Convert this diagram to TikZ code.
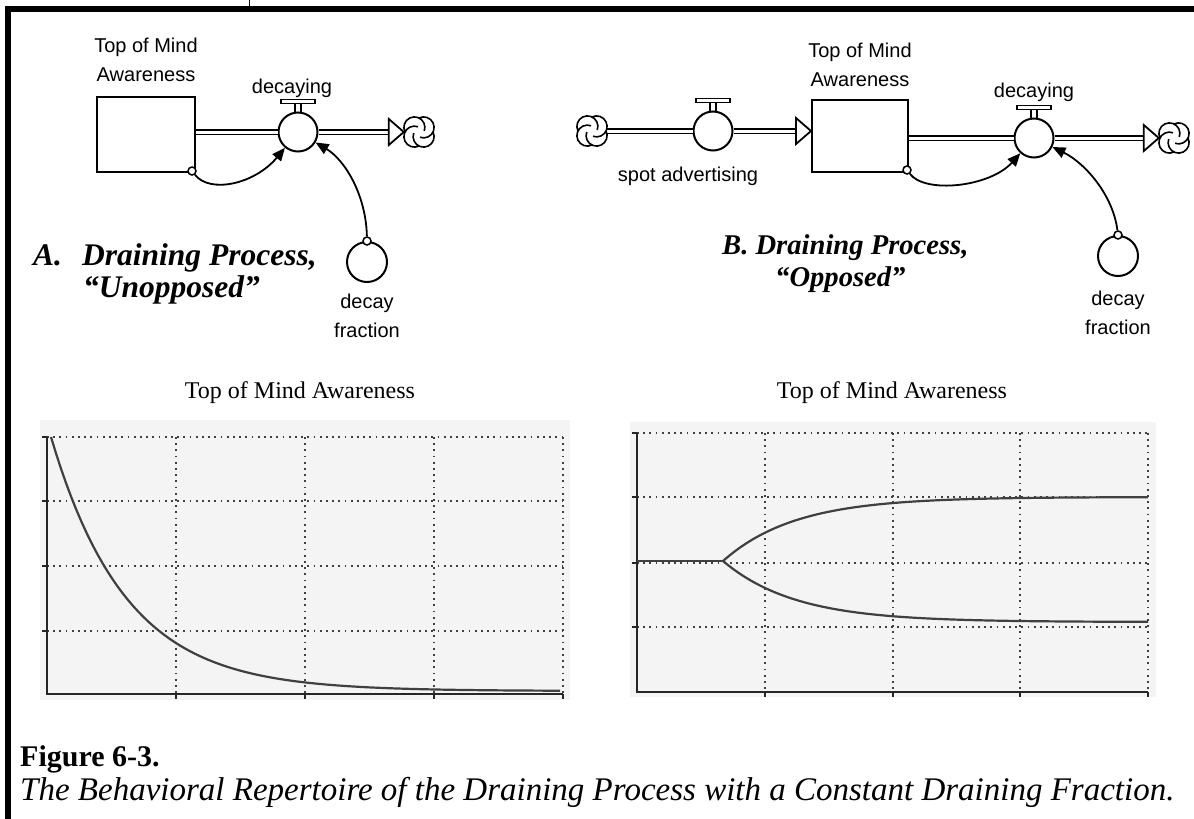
\documentclass[tikz,border=0pt]{standalone}
\usepackage{fontspec}
\setmainfont{Liberation Serif}
\newfontfamily\diagfont{Liberation Sans}
\usetikzlibrary{arrows.meta}
\definecolor{panel}{RGB}{244,244,244}

\begin{document}
\begin{tikzpicture}[x=1pt, y=-1pt,
  lbl/.style={font=\diagfont\fontsize{20}{29}\selectfont, align=center, inner sep=0pt},
  heading/.style={font=\fontsize{31.5}{36}\selectfont\bfseries\itshape, inner sep=0pt, anchor=base west},
  charttitle/.style={font=\fontsize{24}{28}\selectfont, inner sep=0pt},
  stock/.style={draw, line width=2pt, inner sep=0pt},
  valve/.style={circle, draw, line width=2pt, fill=white, minimum size=39pt, inner sep=0pt},
  aux/.style={circle, draw, line width=2pt, minimum size=40pt, inner sep=0pt},
  tap/.style={circle, draw, line width=1.5pt, fill=white, minimum size=8pt, inner sep=0pt},
  cloudpt/.style={minimum size=30pt, inner sep=0pt},
  pipe/.style={double, double distance=3pt, line width=1.4pt},
  flowhead/.style={line width=1.8pt, fill=white},
  infolink/.style={line width=1.8pt, -{Triangle[length=13pt, width=11pt]}},
  gridline/.style={line width=1.8pt, black!75, dash pattern=on 1.8pt off 4.4pt},
  chartaxis/.style={line width=2pt, black!85},
  trace/.style={line width=2.2pt, black!75},
]

\useasboundingbox (0,0) rectangle (1194,819);

\draw[line width=5.5pt] (8,819) -- (8,9) -- (1194,9);
\draw[line width=1pt] (249,0) -- (249,6);

\node[stock, minimum width=98pt, minimum height=75pt] (stockA) at (146,134.5) {};
\node[lbl] (stockAlbl) at (146,60) {Top of Mind\\Awareness};
\node[valve] (valveA) at (298,132) {};
\node[lbl] (valveAlbl) at (292,88) {decaying};
\node[cloudpt] (cloudA) at (419,132) {};
\node[aux] (auxA) at (367,262) {};
\node[lbl] (auxAlbl) at (367,316) {decay\\fraction};
\node[tap] (tapA1) at (192,171) {};
\node[tap] (tapA2) at (auxA.north) {};

\draw[pipe] (stockA.east |- valveA.center) -- (valveA.west);
\draw[pipe] (valveA.east) -- ([xshift=-15pt]cloudA.west);
\draw[flowhead] (cloudA.west) -- ++(-15,-13) -- ++(0,26) -- cycle;
\draw[line width=1.4pt] ([xshift=-3pt]valveA.north) -- ++(0,-8) ([xshift=3pt]valveA.north) -- ++(0,-8);
\draw[line width=1.4pt, fill=white] ([yshift=8pt]valveA.north) ++(-17,-4) rectangle ++(34,4);
\draw[line width=1.6pt] ([shift={(45:6.5)}]cloudA.center) ++(-26:10.5) arc[start angle=-26, end angle=200, radius=10.5]
  ([shift={(135:6.5)}]cloudA.center) ++(64:10.5) arc[start angle=64, end angle=290, radius=10.5]
  ([shift={(225:6.5)}]cloudA.center) ++(154:10.5) arc[start angle=154, end angle=380, radius=10.5]
  ([shift={(315:6.5)}]cloudA.center) ++(244:10.5) arc[start angle=244, end angle=470, radius=10.5];

\draw[infolink] (tapA1) .. controls (210,194) and (255,184) .. (valveA);
\draw[infolink] (tapA2) .. controls (366,195) and (345,160) .. (valveA);

\node[heading] (titleA0) at (33,265) {A.};
\node[heading] (titleA1) at (82,265) {Draining Process,};
\node[heading] (titleA2) at (83,297) {``Unopposed''};

\node[cloudpt] (cloudL) at (592,131) {};
\node[valve] (valveS) at (713,131) {};
\node[lbl] (valveSlbl) at (688,176) {spot advertising};
\node[stock, minimum width=96pt, minimum height=72pt] (stockB) at (860,136) {};
\node[lbl] (stockBlbl) at (860,65) {Top of Mind\\Awareness};
\node[valve] (valveD) at (1034,138) {};
\node[lbl] (valveDlbl) at (1034,92) {decaying};
\node[cloudpt] (cloudR) at (1174,138) {};
\node[aux] (auxB) at (1118,256) {};
\node[lbl] (auxBlbl) at (1118,313) {decay\\fraction};
\node[tap] (tapB1) at (907,170) {};
\node[tap] (tapB2) at (auxB.north) {};
\coordinate (inB) at (stockB.west |- valveS.center);

\draw[pipe] (cloudL.east) -- (valveS.west);
\draw[pipe] (valveS.east) -- ([xshift=-15pt]inB);
\draw[flowhead] (inB) -- ++(-15,-13) -- ++(0,26) -- cycle;
\draw[pipe] (stockB.east |- valveD.center) -- (valveD.west);
\draw[pipe] (valveD.east) -- ([xshift=-15pt]cloudR.west);
\draw[flowhead] (cloudR.west) -- ++(-15,-13) -- ++(0,26) -- cycle;
\draw[line width=1.4pt] ([xshift=-3pt]valveS.north) -- ++(0,-8) ([xshift=3pt]valveS.north) -- ++(0,-8);
\draw[line width=1.4pt, fill=white] ([yshift=8pt]valveS.north) ++(-17,-4) rectangle ++(34,4);
\draw[line width=1.4pt] ([xshift=-3pt]valveD.north) -- ++(0,-8) ([xshift=3pt]valveD.north) -- ++(0,-8);
\draw[line width=1.4pt, fill=white] ([yshift=8pt]valveD.north) ++(-17,-4) rectangle ++(34,4);
\draw[line width=1.6pt] ([shift={(45:6.5)}]cloudL.center) ++(-26:10.5) arc[start angle=-26, end angle=200, radius=10.5]
  ([shift={(135:6.5)}]cloudL.center) ++(64:10.5) arc[start angle=64, end angle=290, radius=10.5]
  ([shift={(225:6.5)}]cloudL.center) ++(154:10.5) arc[start angle=154, end angle=380, radius=10.5]
  ([shift={(315:6.5)}]cloudL.center) ++(244:10.5) arc[start angle=244, end angle=470, radius=10.5];
\draw[line width=1.6pt] ([shift={(45:6.5)}]cloudR.center) ++(-26:10.5) arc[start angle=-26, end angle=200, radius=10.5]
  ([shift={(135:6.5)}]cloudR.center) ++(64:10.5) arc[start angle=64, end angle=290, radius=10.5]
  ([shift={(225:6.5)}]cloudR.center) ++(154:10.5) arc[start angle=154, end angle=380, radius=10.5]
  ([shift={(315:6.5)}]cloudR.center) ++(244:10.5) arc[start angle=244, end angle=470, radius=10.5];

\draw[infolink] (tapB1) .. controls (925,194) and (990,187) .. (valveD);
\draw[infolink] (tapB2) .. controls (1113,195) and (1085,163) .. (valveD);

\node[heading, font=\fontsize{28.6}{34}\selectfont\bfseries\itshape] (titleB1) at (722,254) {B. Draining Process,};
\node[heading, font=\fontsize{28.6}{34}\selectfont\bfseries\itshape] (titleB2) at (775,286) {``Opposed''};

\fill[panel] (40,420) rectangle (570,700);
\node[charttitle] (chartAlbl) at (300,393) {Top of Mind Awareness};
\draw[gridline] (47,437) -- (563,437);
\draw[gridline] (47,501) -- (563,501);
\draw[gridline] (47,566) -- (563,566);
\draw[gridline] (47,631) -- (563,631);
\draw[gridline] (176,437) -- (176,694);
\draw[gridline] (305,437) -- (305,694);
\draw[gridline] (434,437) -- (434,694);
\draw[gridline] (563,437) -- (563,694);
\draw[chartaxis] (47,437) -- (47,694) -- (563,694);
\draw[chartaxis] (42,437) -- (47,437) (42,501) -- (47,501) (42,566) -- (47,566) (42,631) -- (47,631);
\draw[chartaxis] (176,694) -- (176,699) (305,694) -- (305,699) (434,694) -- (434,699) (563,694) -- (563,699);
\draw[trace] plot[domain=51:560, samples=100] (\x, {691-254*exp(-(\x-51)/75)});

\fill[panel] (630,422) rectangle (1156,697);
\node[charttitle] (chartBlbl) at (892,393) {Top of Mind Awareness};
\draw[gridline] (637,433) -- (1148,433);
\draw[gridline] (637,497) -- (1148,497);
\draw[gridline] (637,563) -- (1148,563);
\draw[gridline] (637,627) -- (1148,627);
\draw[gridline] (765,433) -- (765,692);
\draw[gridline] (893,433) -- (893,692);
\draw[gridline] (1020,433) -- (1020,692);
\draw[gridline] (1148,433) -- (1148,692);
\draw[chartaxis] (637,433) -- (637,692) -- (1148,692);
\draw[chartaxis] (632,433) -- (637,433) (632,497) -- (637,497) (632,563) -- (637,563) (632,627) -- (637,627);
\draw[chartaxis] (765,692) -- (765,697) (893,692) -- (893,697) (1020,692) -- (1020,697) (1148,692) -- (1148,697);
\draw[trace] (637,561) -- (723,561);
\draw[trace] plot[domain=723:1148, samples=100] (\x, {497+64*exp(-(\x-723)/72)});
\draw[trace] plot[domain=723:1148, samples=100] (\x, {622-61*exp(-(\x-723)/72)});

\node[anchor=base west, inner sep=0pt, font=\fontsize{30}{36}\selectfont\bfseries] (figno) at (20,766) {Figure 6-3.};
\node[anchor=base west, inner sep=0pt, font=\fontsize{33}{38}\selectfont\itshape] (figcap) at (20,800) {The Behavioral Repertoire of the Draining Process with a Constant Draining Fraction.};

\end{tikzpicture}
\end{document}
